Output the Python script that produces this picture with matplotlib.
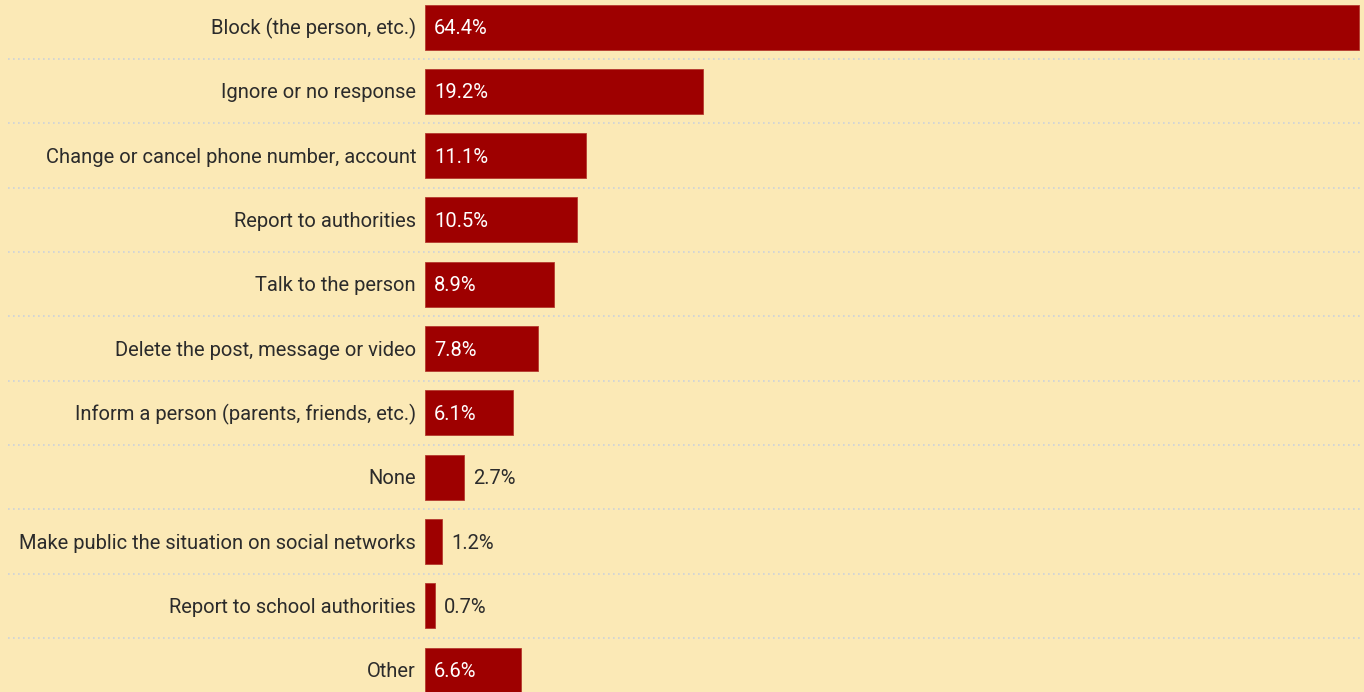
import matplotlib
matplotlib.use("Agg")
import matplotlib.pyplot as plt
from matplotlib.transforms import blended_transform_factory, offset_copy

categories = [
    "Block (the person, etc.)",
    "Ignore or no response",
    "Change or cancel phone number, account",
    "Report to authorities",
    "Talk to the person",
    "Delete the post, message or video",
    "Inform a person (parents, friends, etc.)",
    "None",
    "Make public the situation on social networks",
    "Report to school authorities",
    "Other",
]
values = [64.4, 19.2, 11.1, 10.5, 8.9, 7.8, 6.1, 2.7, 1.2, 0.7, 6.6]

BG = "#FBE9B6"
BAR = "#9E0000"
TEXT = "#2B2B2B"
GRID = "#CBD2DA"

plt.rcParams["font.family"] = ["Roboto", "DejaVu Sans"]

W, H, DPI = 13.64, 6.92, 100
FS = 14.5
# half the cap height in pixels, so that text sits centred on the bar
half_cap = 0.711 * FS * DPI / 72 / 2

fig = plt.figure(figsize=(W, H), dpi=DPI, facecolor=BG)
ax = fig.add_axes([425 / 1364, 0, 1 - 425 / 1364, 1])
ax.set_facecolor(BG)

pos = list(range(len(categories)))
ax.barh(pos, values, height=0.70, color=BAR, edgecolor="#B53A2E", linewidth=0.6)

ax.set_xlim(0, 64.76)
ax.set_ylim(10.34, -0.42)
ax.axis("off")

# dotted separators spanning the full width, between rows
tr = blended_transform_factory(fig.transFigure, ax.transData)
for i in range(len(categories) - 1):
    ax.plot([8 / 1364, 1360 / 1364], [i + 0.5, i + 0.5], transform=tr,
            color=GRID, linestyle=(0, (1, 2)), linewidth=1.2, clip_on=False)

# category labels left of the bars
lab_tr = offset_copy(ax.transData, fig=fig, x=-9, y=-half_cap, units="dots")
for p, c in zip(pos, categories):
    ax.text(0, p, c, transform=lab_tr, ha="right", va="baseline",
            fontsize=FS, color=TEXT)

# value labels: inside wide bars, outside narrow ones
in_tr = offset_copy(ax.transData, fig=fig, x=9, y=-half_cap, units="dots")
for p, v in zip(pos, values):
    if v >= 5:
        ax.text(0, p, f"{v:.1f}%", transform=in_tr, ha="left", va="baseline",
                fontsize=FS, color="white")
    else:
        ax.text(v, p, f"{v:.1f}%", transform=in_tr, ha="left", va="baseline",
                fontsize=FS, color=TEXT)

fig.savefig("out.png", dpi=DPI, facecolor=BG)
